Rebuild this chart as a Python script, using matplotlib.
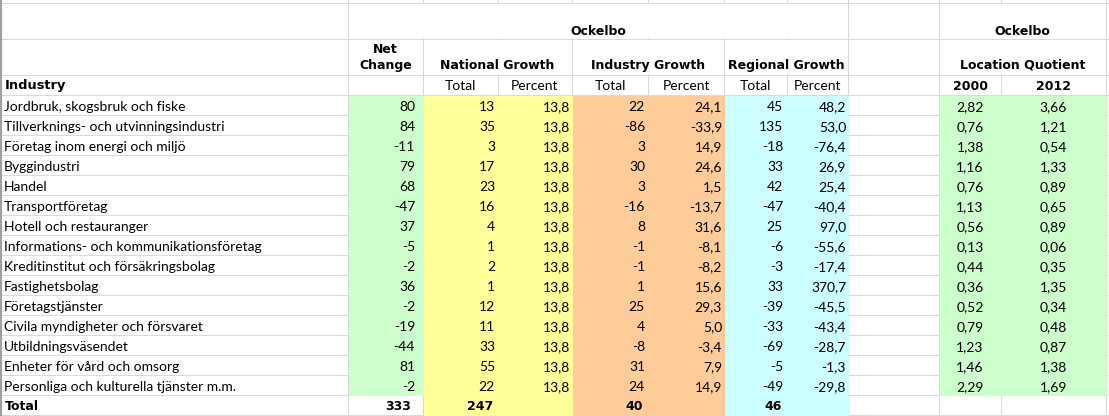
import matplotlib
matplotlib.use("Agg")
import matplotlib.pyplot as plt
from matplotlib.patches import Rectangle

# data
industries = [
    "Jordbruk, skogsbruk och fiske",
    "Tillverknings- och utvinningsindustri",
    "Företag inom energi och miljö",
    "Byggindustri",
    "Handel",
    "Transportföretag",
    "Hotell och restauranger",
    "Informations- och kommunikationsföretag",
    "Kreditinstitut och försäkringsbolag",
    "Fastighetsbolag",
    "Företagstjänster",
    "Civila myndigheter och försvaret",
    "Utbildningsväsendet",
    "Enheter för vård och omsorg",
    "Personliga och kulturella tjänster m.m.",
]
net_change = [80, 84, -11, 79, 68, -47, 37, -5, -2, 36, -2, -19, -44, 81, -2]
nat_total = [13, 35, 3, 17, 23, 16, 4, 1, 2, 1, 12, 11, 33, 55, 22]
nat_pct = [13.8] * 15
ind_total = [22, -86, 3, 30, 3, -16, 8, -1, -1, 1, 25, 4, -8, 31, 24]
ind_pct = [24.1, -33.9, 14.9, 24.6, 1.5, -13.7, 31.6, -8.1, -8.2, 15.6, 29.3, 5.0, -3.4, 7.9, 14.9]
reg_total = [45, 135, -18, 33, 42, -47, 25, -6, -3, 33, -39, -33, -69, -5, -49]
reg_pct = [48.2, 53.0, -76.4, 26.9, 25.4, -40.4, 97.0, -55.6, -17.4, 370.7, -45.5, -43.4, -28.7, -1.3, -29.8]
lq_2000 = [2.82, 0.76, 1.38, 1.16, 0.76, 1.13, 0.56, 0.13, 0.44, 0.36, 0.52, 0.79, 1.23, 1.46, 2.29]
lq_2012 = [3.66, 1.21, 0.54, 1.33, 0.89, 0.65, 0.89, 0.06, 0.35, 1.35, 0.34, 0.48, 0.87, 1.38, 1.69]
totals = [333, 247, 40, 46]

region = "Ockelbo"
group_titles = ["National Growth", "Industry Growth", "Regional Growth"]
sub_titles = ["Total", "Percent"]
lq_years = ["2000", "2012"]

# sheet layout (pixels)
W, H = 1109, 416
cols = [2, 348, 423, 498, 572, 648, 724, 787, 848, 939, 1001, 1106, 1109]
rows = [0, 3, 39, 75, 95] + [95 + 20 * k for k in range(1, 17)] + [416]
grid_c = "#d9d9d9"
green, yellow, orange, cyan = "#ccffcc", "#ffff99", "#ffcc99", "#ccffff"

HEAD = dict(family="DejaVu Sans", weight="bold", size=9, color="black")
BODY = dict(family=["Lato", "DejaVu Sans"], size=10, color="black")

fig = plt.figure(figsize=(W / 100, H / 100), dpi=100)
ax = fig.add_axes([0, 0, 1, 1])
ax.set_xlim(0, W)
ax.set_ylim(H, 0)
ax.axis("off")

# gridlines
for y in rows[1:-1]:
    ax.plot([cols[0], W], [y, y], color=grid_c, lw=0.72, zorder=1)
for x in cols[1:-1]:
    ax.plot([x, x], [0, H], color=grid_c, lw=0.72, zorder=1)
ax.plot([1, 1], [0, H], color="#a0a0a0", lw=1.6, zorder=1)

# merged header cells
for x0, y0, x1, y1 in [(348, 3, 848, 39), (939, 3, 1106, 39), (423, 39, 572, 75),
                       (572, 39, 724, 75), (724, 39, 848, 75), (939, 39, 1106, 75)]:
    ax.add_patch(Rectangle((x0 + 0.6, y0 + 0.6), x1 - x0 - 1.2, y1 - y0 - 1.2,
                           facecolor="white", edgecolor="none", zorder=2))

# fills
n = len(industries)
top = rows[4]
ax.add_patch(Rectangle((348.5, top + 0.5), 423 - 348, 20 * n, facecolor=green, edgecolor="none", zorder=2))
ax.add_patch(Rectangle((423.5, top + 0.5), 572 - 423, 20 * (n + 1), facecolor=yellow, edgecolor="none", zorder=2))
ax.add_patch(Rectangle((572.5, top + 0.5), 724 - 572, 20 * (n + 1), facecolor=orange, edgecolor="none", zorder=2))
ax.add_patch(Rectangle((724.5, top + 0.5), 848 - 724, 20 * (n + 1), facecolor=cyan, edgecolor="none", zorder=2))
ax.add_patch(Rectangle((939.5, top + 0.5), 1106 - 939, 20 * n, facecolor=green, edgecolor="none", zorder=2))

# headers
ax.text(598, 35, region, ha="center", va="baseline", **HEAD)
ax.text(1022.5, 35, region, ha="center", va="baseline", **HEAD)
ax.text(385.5, 53, "Net", ha="center", va="baseline", **HEAD)
ax.text(385.5, 68.5, "Change", ha="center", va="baseline", **HEAD)
for title, (x0, x1) in zip(group_titles, [(423, 572), (572, 724), (724, 848)]):
    ax.text((x0 + x1) / 2, 69, title, ha="center", va="baseline", **HEAD)
ax.text(1022.5, 69, "Location Quotient", ha="center", va="baseline", **HEAD)
ax.text(5, 89.5, "Industry", ha="left", va="baseline", **dict(HEAD, size=9.4))
for i in range(3):
    for j, s in enumerate(sub_titles):
        c = 2 + 2 * i + j
        ax.text((cols[c] + cols[c + 1]) / 2, 90, s, ha="center", va="baseline", **BODY)
for j, yr in enumerate(lq_years):
    ax.text((cols[9 + j] + cols[10 + j]) / 2, 89.5, yr, ha="center", va="baseline", **HEAD)


def pct(v):
    return f"{v:.1f}".replace(".", ",")


def dec2(v):
    return f"{v:.2f}".replace(".", ",")


# data rows
right_pad = [8, 3, 2, 3, 2, 4, 2]
for r in range(n):
    yb = rows[5 + r] - 4
    ax.text(4, yb, industries[r], ha="left", va="baseline", zorder=3, **BODY)
    vals = [str(net_change[r]), str(nat_total[r]), pct(nat_pct[r]), str(ind_total[r]),
            pct(ind_pct[r]), str(reg_total[r]), pct(reg_pct[r])]
    for k, v in enumerate(vals):
        ax.text(cols[k + 2] - right_pad[k], yb, v, ha="right", va="baseline", zorder=3, **BODY)
    ax.text((cols[9] + cols[10]) / 2, yb, dec2(lq_2000[r]), ha="center", va="baseline", zorder=3, **BODY)
    ax.text((cols[10] + cols[11]) / 2, yb, dec2(lq_2012[r]), ha="center", va="baseline", zorder=3, **BODY)

# total row
yb = rows[5 + n] - 4.5
ax.text(5, yb, "Total", ha="left", va="baseline", zorder=3, **HEAD)
for x, v in zip([411, 493, 643, 782], totals):
    ax.text(x, yb, str(v), ha="right", va="baseline", zorder=3, **HEAD)

fig.savefig("out.png", dpi=100)
